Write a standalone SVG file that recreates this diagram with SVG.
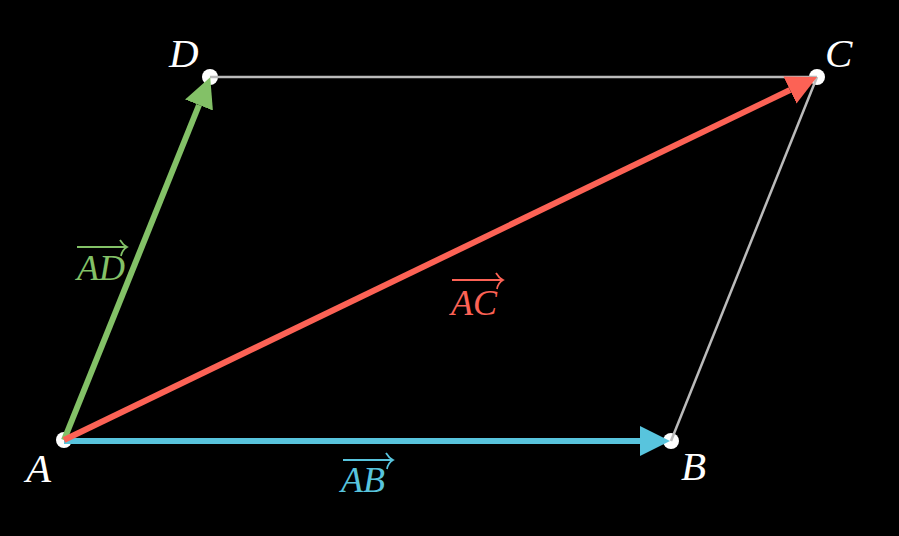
<svg xmlns="http://www.w3.org/2000/svg" width="899" height="536" viewBox="0 0 899 536">
<defs>
<style>
.pt{fill:#ffffff}
.edge{stroke:#bbbbbb;stroke-width:2.5;fill:none}
.vec{stroke-width:6;fill:none}
.lbl{font-family:"Liberation Serif",serif;font-style:italic;font-size:41px;fill:#ffffff}
.vl{font-family:"Liberation Serif",serif;font-style:italic;font-size:36px}
.ov{fill:none;stroke-width:1.8}
</style>
<marker id="hg" markerUnits="userSpaceOnUse" markerWidth="32" markerHeight="32" refX="0" refY="15" orient="auto"><path d="M0,0 L30,15 L0,30 Z" fill="#83C167"/></marker>
<marker id="hr" markerUnits="userSpaceOnUse" markerWidth="32" markerHeight="32" refX="0" refY="15" orient="auto"><path d="M0,0 L30,15 L0,30 Z" fill="#FC6255"/></marker>
<marker id="hb" markerUnits="userSpaceOnUse" markerWidth="32" markerHeight="32" refX="0" refY="15" orient="auto"><path d="M0,0 L30,15 L0,30 Z" fill="#58C4DD"/></marker>
</defs>
<rect width="899" height="536" fill="#000000"/>
<g id="nodes">
<g id="A"><circle class="pt" cx="64" cy="440" r="8"/><text class="lbl" x="26" y="482">A</text></g>
<g id="B"><circle class="pt" cx="671" cy="441" r="8"/><text class="lbl" x="681" y="480">B</text></g>
<g id="D"><circle class="pt" cx="210" cy="77" r="8"/><text class="lbl" x="169" y="67">D</text></g>
<g id="C"><circle class="pt" cx="817" cy="77" r="8"/><text class="lbl" x="825" y="67">C</text></g>
</g>
<g id="connectors">
<line class="edge" x1="210" y1="77" x2="817" y2="77"/>
<line class="edge" x1="817" y1="77" x2="671" y2="441"/>
<line class="vec" stroke="#58C4DD" x1="64" y1="441" x2="640" y2="441" marker-end="url(#hb)"/>
<line class="vec" stroke="#83C167" x1="64" y1="440" x2="199" y2="105" marker-end="url(#hg)"/>
<line class="vec" stroke="#FC6255" x1="64" y1="440" x2="790" y2="90" marker-end="url(#hr)"/>
</g>
<g id="vector-labels">
<g id="lbl-AD" fill="#83C167" stroke="#83C167">
<path class="ov" d="M77,247 H126 M120,240 Q123,245 127,247 Q122,250 121,256"/>
<text class="vl" x="77" y="280" stroke="none">AD</text>
</g>
<g id="lbl-AC" fill="#FC6255" stroke="#FC6255">
<path class="ov" d="M452,280 H502 M496,273 Q499,278 503,280 Q498,283 497,289"/>
<text class="vl" x="451" y="315" stroke="none">AC</text>
</g>
<g id="lbl-AB" fill="#58C4DD" stroke="#58C4DD">
<path class="ov" d="M343,460 H392 M386,453 Q389,458 393,460 Q388,463 387,469"/>
<text class="vl" x="341" y="492" stroke="none">AB</text>
</g>
</g>
</svg>
